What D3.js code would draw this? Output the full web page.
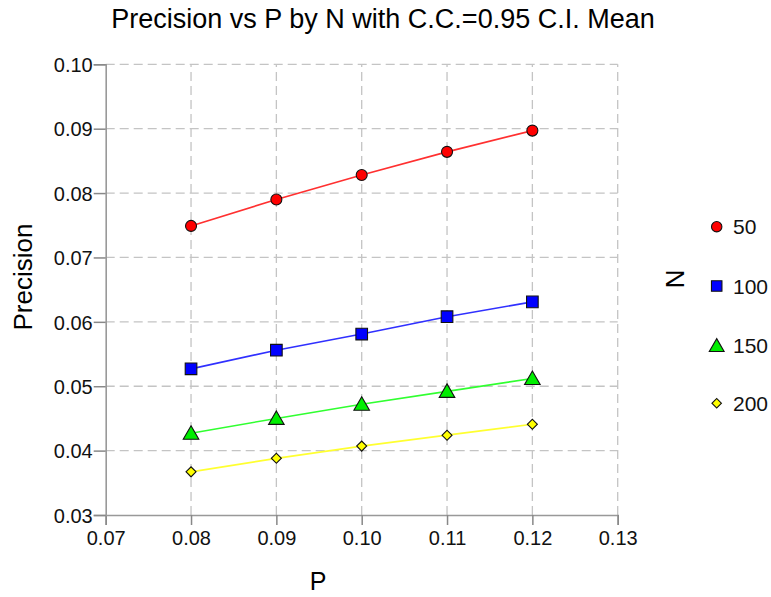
<!DOCTYPE html>
<html>
<head>
<meta charset="utf-8">
<script src="https://cdn.jsdelivr.net/npm/d3@7"></script>
<style>
html,body{margin:0;padding:0;background:#fff;}
svg{display:block;font-family:Arial,"Liberation Sans",sans-serif;}
</style>
</head>
<body>
<svg id="chart" width="771" height="597"></svg>
<script>
const pValues = [0.08, 0.09, 0.10, 0.11, 0.12];
const nLabels = ["50", "100", "150", "200"];
const precision50  = [0.0749, 0.0790, 0.0828, 0.0864, 0.0897];
const precision100 = [0.0527, 0.0556, 0.0581, 0.0608, 0.0631];
const precision150 = [0.0427, 0.0450, 0.0472, 0.0492, 0.0512];
const precision200 = [0.0367, 0.0388, 0.0407, 0.0424, 0.0441];
const xTicks = [0.07, 0.08, 0.09, 0.10, 0.11, 0.12, 0.13];
const yTicks = [0.03, 0.04, 0.05, 0.06, 0.07, 0.08, 0.09, 0.10];
const colors = ["#ff0000", "#0000ff", "#00ee00", "#ffff00"];
const lineColors = ["#ff3030", "#3030ff", "#30ff30", "#ffff30"];
const shapes = [d3.symbolCircle, d3.symbolSquare, d3.symbolTriangle, d3.symbolSquare];
const rotations = [0, 0, 0, 45];
const symSizes = [95, 135, 105, 50];

const seriesList = [precision50, precision100, precision150, precision200];

const svg = d3.select("#chart");
const margin = {left: 105.7, right: 617.7, top: 64.3, bottom: 515};
const x = d3.scaleLinear().domain([0.07, 0.13]).range([margin.left, margin.right]);
const y = d3.scaleLinear().domain([0.03, 0.10]).range([margin.bottom, margin.top]);

// grid
const grid = svg.append("g");
grid.selectAll("line.v").data(xTicks.slice(1)).enter().append("line")
  .attr("x1", d => x(d)).attr("x2", d => x(d))
  .attr("y1", margin.bottom).attr("y2", margin.top)
  .attr("stroke", "#c4c4c4").attr("stroke-width", 1.3).attr("stroke-dasharray", "9,5");
grid.selectAll("line.h").data(yTicks.slice(1)).enter().append("line")
  .attr("y1", d => y(d)).attr("y2", d => y(d))
  .attr("x1", margin.left).attr("x2", margin.right)
  .attr("stroke", "#c4c4c4").attr("stroke-width", 1.3).attr("stroke-dasharray", "9,5");

// axes
const xAxis = d3.axisBottom(x).tickValues(xTicks).tickFormat(d3.format(".2f")).tickSize(10).tickPadding(6);
const yAxis = d3.axisLeft(y).tickValues(yTicks).tickFormat(d3.format(".2f")).tickSize(12).tickPadding(1);
const gx = svg.append("g").attr("transform", `translate(0,${margin.bottom})`).call(xAxis);
const gy = svg.append("g").attr("transform", `translate(${margin.left},0)`).call(yAxis);
[gx, gy].forEach(g => {
  g.select(".domain").attr("stroke", "#999").attr("stroke-width", 1.6);
  g.selectAll(".tick line").attr("stroke", "#888").attr("stroke-width", 1.5);
  g.selectAll(".tick text").attr("fill", "#111").style("font-size", "20px")
    .style("font-family", "Arial, 'Liberation Sans', sans-serif");
});
gx.selectAll(".tick text").attr("dy", "0.72em");
gy.selectAll(".tick text").attr("dy", "0.36em");

// lines and markers
const line = d3.line().x((d, i) => x(pValues[i])).y(d => y(d));
seriesList.forEach((s, k) => {
  svg.append("path").datum(s).attr("d", line)
    .attr("fill", "none").attr("stroke", lineColors[k]).attr("stroke-width", 1.6);
  svg.append("g").selectAll("path").data(s).enter().append("path")
    .attr("d", d3.symbol().type(shapes[k]).size(symSizes[k]))
    .attr("transform", (d, i) => `translate(${x(pValues[i])},${y(d) + (k === 2 ? 1.5 : 0)}) rotate(${rotations[k]})`)
    .attr("fill", colors[k]).attr("stroke", "#111").attr("stroke-width", 1.1);
});

// title
svg.append("text").attr("x", 383).attr("y", 28).attr("text-anchor", "middle")
  .style("font-size", "27px").attr("fill", "#000")
  .text("Precision vs P by N with C.C.=0.95 C.I. Mean");
// axis titles
svg.append("text").attr("transform", "translate(32,277) rotate(-90)").attr("text-anchor", "middle")
  .style("font-size", "26px").attr("fill", "#000").text("Precision");
svg.append("text").attr("x", 318).attr("y", 590).attr("text-anchor", "middle")
  .style("font-size", "25px").attr("fill", "#000").text("P");

// legend
svg.append("text").attr("transform", "translate(666,279) rotate(90)").attr("text-anchor", "middle")
  .style("font-size", "26px").attr("fill", "#000").text("N");
const legY = [226.7, 286, 345.7, 403.3];
const legSizes = [85, 110, 95, 45];
nLabels.forEach((lab, k) => {
  svg.append("path").attr("d", d3.symbol().type(shapes[k]).size(legSizes[k]))
    .attr("transform", `translate(716.7,${legY[k] + (k === 2 ? 1.5 : 0)}) rotate(${rotations[k]})`)
    .attr("fill", colors[k]).attr("stroke", "#111").attr("stroke-width", 1.1);
  svg.append("text").attr("x", 733).attr("y", legY[k] + 7.5)
    .style("font-size", "21px").attr("fill", "#111").text(lab);
});
</script>
</body>
</html>
